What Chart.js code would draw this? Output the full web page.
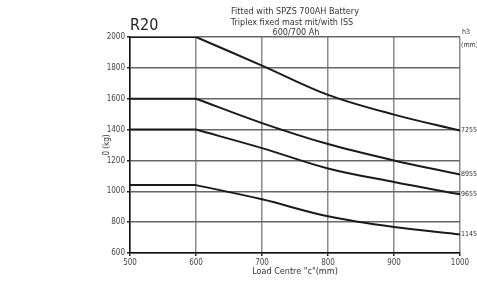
<!DOCTYPE html>
<html>
<head>
<meta charset="utf-8">
<script src="https://cdn.jsdelivr.net/npm/chart.js@4"></script>
<style>
  html, body { margin: 0; padding: 0; background: #fff; }
  #wrap { width: 477px; height: 281px; }
</style>
</head>
<body>
<div id="wrap"><canvas id="chart" width="477" height="281"></canvas></div>
<script>
// load centre (mm)
const loadCentre = [500, 600, 700, 800, 900, 1000];
// capacity Q (kg) per lift height h3
const cap7255 = [2000, 2000, 1815, 1625, 1497, 1393];
const cap8955 = [1600, 1600, 1442, 1306, 1200, 1108];
const cap9655 = [1400, 1400, 1280, 1148, 1060, 980];
const cap1145 = [1040, 1040, 948, 838, 768, 720];
const heightLabels = ['7255', '8955', '9655', '1145'];

const FONT = "'Liberation Sans Narrow', 'DejaVu Sans Condensed', 'Liberation Sans', sans-serif";

const series = [cap7255, cap8955, cap9655, cap1145];

// flat part up to 600 is straight, curve after it is smoothed
function flatPart(vals) {
  return vals.slice(0, 2).map((v, i) => ({ x: loadCentre[i], y: v }));
}
function curvePart(vals) {
  return vals.slice(1).map((v, i) => ({ x: loadCentre[i + 1], y: v }));
}

const datasets = [];
series.forEach((s, i) => {
  datasets.push({
    label: heightLabels[i] + ' flat',
    data: flatPart(s),
    borderColor: '#1a1a1a',
    borderWidth: 2,
    pointRadius: 0,
    tension: 0
  });
  datasets.push({
    label: heightLabels[i],
    data: curvePart(s),
    borderColor: '#1a1a1a',
    borderWidth: 2,
    pointRadius: 0,
    tension: 0.35
  });
});

const textPlugin = {
  id: 'texts',
  afterDraw(chart) {
    const ctx = chart.ctx;
    const area = chart.chartArea;
    const ys = chart.scales.y;
    ctx.save();
    ctx.fillStyle = '#333';
    ctx.textBaseline = 'middle';

    // heading
    ctx.font = '9px ' + FONT;
    ctx.textAlign = 'center';
    ctx.fillText('Fitted with SPZS 700AH Battery', 295, 12);
    ctx.fillText('Triplex fixed mast mit/with ISS', 292, 23);
    ctx.fillText('600/700 Ah', 296, 33);

    // model name
    ctx.font = '16px ' + FONT;
    ctx.textAlign = 'left';
    ctx.fillStyle = '#222';
    ctx.fillText('R20', 130, 26);

    // h3 header
    ctx.fillStyle = '#333';
    ctx.font = '7px ' + FONT;
    ctx.fillText('h3', 462, 32);
    ctx.fillText('(mm)', 461, 45);

    // lift height labels at line ends
    series.forEach((s, i) => {
      const y = ys.getPixelForValue(s[s.length - 1]);
      ctx.fillText(heightLabels[i], area.right + 1, y);
    });

    // axis titles
    ctx.font = '9px ' + FONT;
    ctx.textAlign = 'center';
    ctx.fillText('Load Centre "c"(mm)', 295, 272);
    ctx.translate(107, 145);
    ctx.rotate(-Math.PI / 2);
    ctx.font = '8px ' + FONT;
    ctx.fillText('0 (kg)', 0, 0);
    ctx.restore();
  }
};

new Chart(document.getElementById('chart'), {
  type: 'line',
  data: { datasets: datasets },
  options: {
    responsive: false,
    animation: false,
    layout: { padding: { left: 0, right: 17, top: 37, bottom: 0 } },
    plugins: {
      legend: { display: false },
      tooltip: { enabled: false }
    },
    scales: {
      x: {
        type: 'linear',
        min: 500,
        max: 1000,
        ticks: {
          stepSize: 100,
          color: '#444',
          font: { family: FONT, size: 8 },
          padding: 2,
          callback: v => String(v)
        },
        grid: {
          color: '#8a8a8a',
          lineWidth: 1.5,
          tickLength: 3,
          tickColor: '#222'
        },
        border: { color: '#111', width: 1.5 },
        afterFit(scale) { scale.height = 28; }
      },
      y: {
        min: 600,
        max: 2000,
        ticks: {
          stepSize: 200,
          color: '#444',
          font: { family: FONT, size: 8 },
          padding: 2,
          callback: v => String(v)
        },
        grid: {
          color: '#666',
          lineWidth: 1.5,
          tickLength: 3,
          tickColor: '#222'
        },
        border: { color: '#111', width: 1.5 },
        afterFit(scale) { scale.width = 130; }
      }
    }
  },
  plugins: [textPlugin]
});
</script>
</body>
</html>
